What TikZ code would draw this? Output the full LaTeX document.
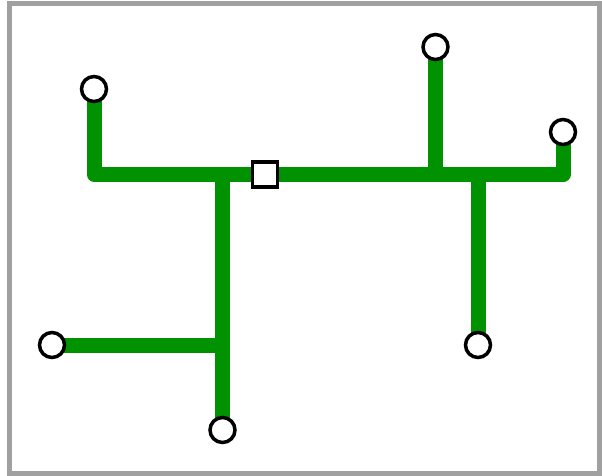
\documentclass[tikz,border=0pt]{standalone}
\usetikzlibrary{backgrounds}
\definecolor{linegreen}{RGB}{0,146,0}
\definecolor{framegray}{RGB}{160,160,160}
\tikzset{
  stop/.style={circle, draw=black, fill=white, line width=3.5pt, inner sep=0pt, minimum size=25pt},
  hub/.style={rectangle, draw=black, fill=white, line width=3.5pt, inner sep=0pt, minimum size=25pt},
  track/.style={line width=15pt, linegreen, line join=round},
}

\begin{document}
\begin{tikzpicture}[x=1pt, y=-1pt]
    \useasboundingbox (0, 0) rectangle (602, 476);
    \draw[line width=5pt, framegray] (9.5, 3.5) rectangle (599.5, 473.5);

    % stops
    \node[stop] (nw) at (94, 89) {};
    \node[stop] (ne) at (435.5, 47) {};
    \node[stop] (east) at (563, 132) {};
    \node[stop] (west) at (52, 345) {};
    \node[stop] (south) at (222.5, 430) {};
    \node[stop] (se) at (478, 345) {};
    \node[hub] (centre) at (265, 174.5) {};

    % junctions
    \coordinate (j1) at (222.5, 174.5);
    \coordinate (j2) at (222.5, 345);
    \coordinate (j3) at (435.5, 174.5);
    \coordinate (j4) at (478, 174.5);

    \begin{pgfonlayer}{background}
    \draw[track] (nw.center) |- (centre.center) -| (east.center);
    \draw[track] (j1) -- (south.center);
    \draw[track] (j2) -- (west.center);
    \draw[track] (j3) -- (ne.center);
    \draw[track] (j4) -- (se.center);
    \end{pgfonlayer}
\end{tikzpicture}
\end{document}
